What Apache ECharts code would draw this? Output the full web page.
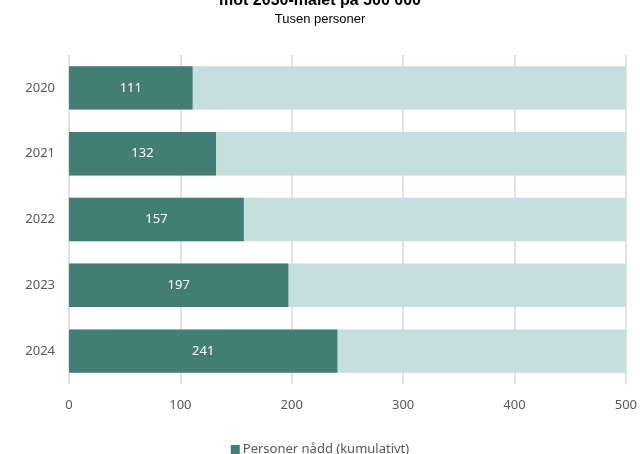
<!DOCTYPE html>
<html><head><meta charset="utf-8">
<script src="https://cdn.jsdelivr.net/npm/echarts@6/dist/echarts.min.js"></script>
<style>html,body{margin:0;padding:0;background:#fff}#c{width:640px;height:454px}</style>
</head><body><div id="c"></div>
<script>
const years = ['2020','2021','2022','2023','2024'];
const reached = [111, 132, 157, 197, 241];
const xTicks = [0, 100, 200, 300, 400, 500];
const seriesName = 'Personer nådd (kumulativt)';
const titleText = 'mot 2030-målet på 500 000';
const subtitleText = 'Tusen personer';

const chart = echarts.init(document.getElementById('c'));
chart.setOption({
  animation: false,
  title: {
    text: titleText,
    subtext: subtitleText,
    left: 'center',
    top: -12,
    itemGap: 4,
    textStyle: {fontFamily: 'Liberation Sans', fontWeight: 'bold', fontSize: 16, color: '#000'},
    subtextStyle: {fontFamily: 'Liberation Sans', fontSize: 13, color: '#000'}
  },
  legend: {
    bottom: -7,
    left: 'center',
    itemWidth: 9, itemHeight: 9,
    itemGap: 4,
    icon: 'rect',
    textStyle: {fontFamily: 'Noto Sans', fontSize: 13, color: '#595959', padding: [0,0,0,-2]},
    data: [seriesName]
  },
  grid: {left: 69, right: 13, top: 55, bottom: 70},
  xAxis: {
    type: 'value', min: xTicks[0], max: xTicks[xTicks.length-1], interval: 100,
    axisLine: {show: false}, axisTick: {show: false},
    splitLine: {lineStyle: {color: '#D9D9D9', width: 1.5}},
    axisLabel: {margin: 15, fontFamily: 'Noto Sans', fontSize: 13, color: '#595959'}
  },
  yAxis: {
    type: 'category', data: years, inverse: true,
    axisLine: {show: false}, axisTick: {show: false},
    axisLabel: {margin: 14, fontFamily: 'Noto Sans', fontSize: 13, color: '#595959'}
  },
  series: [{
    name: seriesName, type: 'bar', data: reached,
    barCategoryGap: '34%',
    itemStyle: {color: '#437E76'},
    showBackground: true,
    backgroundStyle: {color: '#C5E0DC'},
    label: {show: true, position: 'inside', color: '#fff', fontFamily: 'Noto Sans', fontSize: 13}
  }]
});
</script></body></html>
